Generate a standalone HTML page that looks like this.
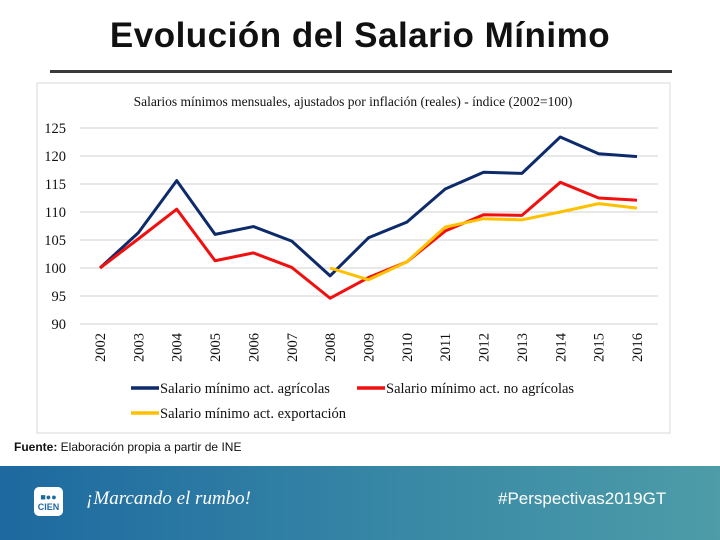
<!DOCTYPE html>
<html><head><meta charset="utf-8"><style>
body{margin:0;width:720px;height:540px;position:relative;background:#fff;font-family:"Liberation Sans",sans-serif;overflow:hidden}
#title{position:absolute;left:0;width:720px;top:16px;text-align:center;font-weight:bold;font-size:35px;color:#111;letter-spacing:0.5px}
#rule{position:absolute;left:50px;top:70px;width:622px;height:3px;background:#3a3a3a}
#src{position:absolute;left:14px;top:440px;font-size:12px;color:#111}
#footer{position:absolute;left:0;top:466px;width:720px;height:74px;background:linear-gradient(90deg,#1d69a0,#3a8aa6 60%,#4d9ca8)}
</style></head><body>
<div id="title">Evolución del Salario Mínimo</div>
<div id="rule"></div>
<svg id="chart" style="position:absolute;left:0;top:0" width="720" height="466"></svg>
<div id="src"><b>Fuente:</b> Elaboración propia a partir de INE</div>
<div id="footer">
 <div style="position:absolute;left:34px;top:21px;width:29px;height:29px;background:#fff;border-radius:5px;color:#1d69a0;font-weight:bold;font-size:9px;text-align:center;line-height:10px;padding-top:5px;box-sizing:border-box">■●●<br>CIEN</div>
 <div style="position:absolute;left:86px;top:22px;color:#fff;font-style:italic;font-size:19px;font-family:'Liberation Serif',serif">¡Marcando el rumbo!</div>
 <div style="position:absolute;left:498px;top:23px;color:#fff;font-size:17px">#Perspectivas2019GT</div>
</div>
<script>
const years=["2002","2003","2004","2005","2006","2007","2008","2009","2010","2011","2012","2013","2014","2015","2016"];
const agri=[100,106.3,115.6,106,107.4,104.8,98.6,105.4,108.2,114.1,117.1,116.9,123.4,120.4,119.9];
const noAgri=[100,105.2,110.5,101.3,102.7,100.1,94.6,98.3,101.1,106.6,109.5,109.4,115.3,112.5,112.1];
const exportS=[null,null,null,null,null,null,100,97.9,101.1,107.3,108.8,108.6,110,111.5,110.7];
const yTicks=[90,95,100,105,110,115,120,125];
const NS="http://www.w3.org/2000/svg";
const svg=document.getElementById('chart');
const x0=100,x1=637,yTop=128,yBot=324,vMin=90,vMax=125;
const xs=i=>x0+(x1-x0)*i/(years.length-1);
const ys=v=>yBot-(v-vMin)/(vMax-vMin)*(yBot-yTop);
function mk(t,a){const e=document.createElementNS(NS,t);for(const k in a)e.setAttribute(k,a[k]);svg.appendChild(e);return e;}
let box=mk('rect',{x:37,y:83,width:633,height:350,fill:'#fff',stroke:'#d9d9d9'});


let ct=mk('text',{x:353,y:106,'text-anchor':'middle','font-family':'Liberation Serif, serif','font-size':13.5,fill:'#111'});
ct.textContent='Salarios mínimos mensuales, ajustados por inflación (reales) - índice (2002=100)';


yTicks.forEach(v=>{
 let g=mk('line',{x1:80,x2:658,y1:ys(v),y2:ys(v),stroke:'#d0d0d0'});
 
 
 let t=mk('text',{x:66,y:ys(v)+5,'text-anchor':'end','font-family':'Liberation Serif, serif','font-size':14.5,fill:'#111'});
 t.textContent=v;
 
 
});
years.forEach((y,i)=>{
 let t=mk('text',{x:0,y:0,'text-anchor':'end','font-family':'Liberation Serif, serif','font-size':14.5,fill:'#111',transform:`translate(${xs(i)+5},333) rotate(-90)`});
 t.textContent=y;
 
 
});
function series(arr,col,name){
 let d='';arr.forEach((v,i)=>{if(v==null)return;d+=(d?'L':'M')+xs(i)+' '+ys(v);});
 let p=mk('path',{d:d,fill:'none',stroke:col,'stroke-width':3,'stroke-linejoin':'round'});
 
 
}
series(agri,'#0d2a6b','series-agricolas');
series(noAgri,'#f01010','series-no-agricolas');
series(exportS,'#ffc000','series-exportacion');
function legend(xl,yl,col,label){
 let l=mk('line',{x1:xl,x2:xl+28,y1:yl,y2:yl,stroke:col,'stroke-width':3.5});
 
 
 let t=mk('text',{x:xl+29,y:yl+5,'font-family':'Liberation Serif, serif','font-size':14.5,fill:'#111'});
 t.textContent=label;
 
 
}
legend(131,388,'#0d2a6b','Salario mínimo act. agrícolas');
legend(357,388,'#f01010','Salario mínimo act. no agrícolas');
legend(131,413,'#ffc000','Salario mínimo act. exportación');
</script>
</body></html>
